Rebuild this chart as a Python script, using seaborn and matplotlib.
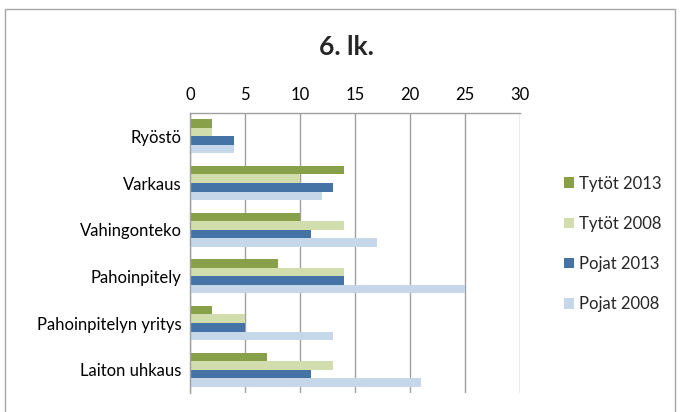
import pandas as pd
import numpy as np
import matplotlib
matplotlib.use("Agg")
import matplotlib.pyplot as plt
import seaborn as sns
from matplotlib.patches import Rectangle, Patch

# data
categories = ["Ryöstö", "Varkaus", "Vahingonteko", "Pahoinpitely",
              "Pahoinpitelyn yritys", "Laiton uhkaus"]
series = ["Tytöt 2013", "Tytöt 2008", "Pojat 2013", "Pojat 2008"]
tytot_2013 = [2, 14, 10, 8, 2, 7]
tytot_2008 = [2, 10, 14, 14, 5, 13]
pojat_2013 = [4, 13, 11, 14, 5, 11]
pojat_2008 = [4, 12, 17, 25, 13, 21]
colors = ["#89A04B", "#D1DDAC", "#4673A5", "#C5D7E9"]

rows = []
for name, vals in zip(series, [tytot_2013, tytot_2008, pojat_2013, pojat_2008]):
    for cat, v in zip(categories, vals):
        rows.append({"kategoria": cat, "sarja": name, "arvo": v})
df = pd.DataFrame(rows)

sns.set_theme(style="white")
plt.rcParams["font.family"] = ["Lato", "DejaVu Sans"]

fig = plt.figure(figsize=(6.8, 4.12), dpi=100)
ax = fig.add_axes([0.2794, 0.0461, 0.4853, 0.6796])

sns.barplot(data=df, y="kategoria", x="arvo", hue="sarja", order=categories,
            hue_order=series, palette=colors, orient="h", width=0.73,
            ax=ax, legend=False, saturation=1, linewidth=0)

ax.set_xlim(0, 30)
ax.set_xticks(range(0, 31, 5))
ax.xaxis.tick_top()
ax.tick_params(axis="x", length=0, labelsize=12, pad=7, colors="black")
ax.tick_params(axis="y", length=0, labelsize=12, pad=6, colors="black")
ax.set_xlabel("")
ax.set_ylabel("")
ax.grid(axis="x", color="#A0A0A0", linewidth=1)
ax.set_axisbelow(True)
for s in ["right", "bottom"]:
    ax.spines[s].set_visible(False)
for s in ["top", "left"]:
    ax.spines[s].set_color("#A0A0A0")
    ax.spines[s].set_linewidth(1)

fig.text(0.51, 0.885, "6. lk.", ha="center", va="center",
         fontsize=19, fontweight="bold")

handles = [Patch(facecolor=c, edgecolor="none") for c in colors]
fig.legend(handles, series, loc="upper left", bbox_to_anchor=(0.82, 0.59),
           frameon=False, fontsize=12, handlelength=0.6, handleheight=0.6,
           handletextpad=0.3, labelspacing=1.45, borderaxespad=0)

fig.patches.append(Rectangle((0.007, -0.05), 0.986, 1.028, transform=fig.transFigure,
                             fill=False, edgecolor="#A6A6A6", linewidth=1))

fig.savefig("out.png", dpi=100)
